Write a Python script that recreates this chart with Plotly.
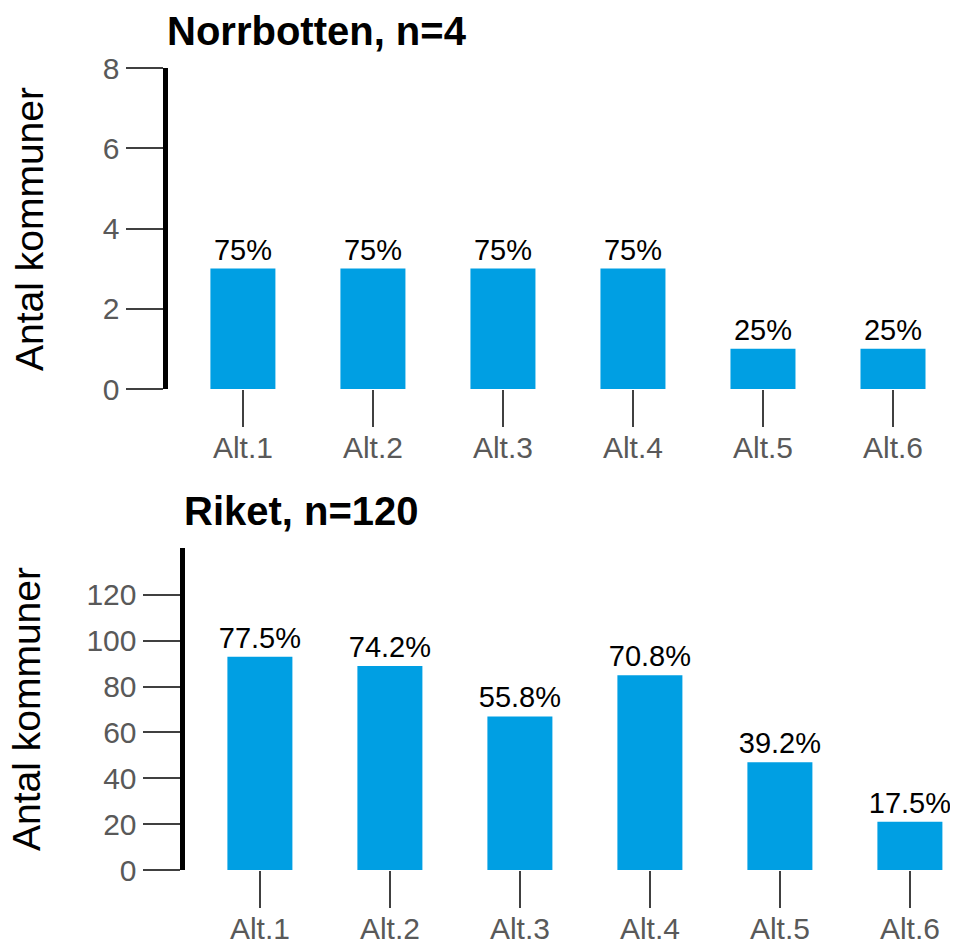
import plotly.graph_objects as go

categories = ["Alt.1", "Alt.2", "Alt.3", "Alt.4", "Alt.5", "Alt.6"]
norrbotten_counts = [3, 3, 3, 3, 1, 1]
norrbotten_n = 4
riket_counts = [93, 89, 67, 85, 47, 21]
riket_n = 120
norrbotten_ticks = [0, 2, 4, 6, 8]
riket_ticks = [0, 20, 40, 60, 80, 100, 120]

OFF = 8  # page body margin
W, H = 958 - OFF, 943 - OFF
BAR = "#009FE3"
FONT = "Liberation Sans, Arial, sans-serif"


def pct(c, n):
    v = round(100 * c / n, 1)
    s = f"{v:.1f}"
    if s.endswith(".0"):
        s = s[:-2]
    return s + "%"


def px_x(p):
    return (p - OFF) / W


def px_y(p):
    return 1 - (p - OFF) / H


fig = go.Figure()
fig.add_trace(go.Bar(
    x=categories, y=norrbotten_counts,
    text=[pct(c, norrbotten_n) for c in norrbotten_counts],
    textposition="outside", cliponaxis=False, constraintext="none",
    textfont=dict(family=FONT, size=29, color="#000000"),
    marker=dict(color=BAR, line=dict(width=0)),
    width=0.5, xaxis="x", yaxis="y", showlegend=False,
))
fig.add_trace(go.Bar(
    x=categories, y=riket_counts,
    text=[pct(c, riket_n) for c in riket_counts],
    textposition="outside", cliponaxis=False, constraintext="none",
    textfont=dict(family=FONT, size=29, color="#000000"),
    marker=dict(color=BAR, line=dict(width=0)),
    width=0.5, xaxis="x2", yaxis="y2", showlegend=False,
))

xcommon = dict(
    showgrid=False, zeroline=False, showline=False, automargin=False,
    ticks="outside", ticklen=37, tickwidth=1.5, tickcolor="#404040",
    ticklabelstandoff=-5,
    tickfont=dict(family=FONT, size=30, color="#595959"),
    fixedrange=True,
)
ycommon = dict(
    showgrid=False, zeroline=False, showline=True, linecolor="#000000", linewidth=5,
    automargin=False,
    ticks="outside", ticklen=37, tickwidth=1.5, tickcolor="#404040",
    tickfont=dict(family=FONT, size=30, color="#595959"),
    fixedrange=True,
)

fig.update_layout(
    width=W, height=H,
    margin=dict(l=0, r=0, t=0, b=0, autoexpand=False),
    paper_bgcolor="white", plot_bgcolor="white",
    xaxis=dict(domain=[px_x(167.5), 1], range=[-0.58, 5.5], anchor="y", **xcommon),
    yaxis=dict(domain=[px_y(389), px_y(68)], range=[0, 8], anchor="x",
               tickvals=norrbotten_ticks, **ycommon),
    xaxis2=dict(domain=[px_x(184.5), 1], range=[-0.58, 5.37], anchor="y2", **xcommon),
    yaxis2=dict(domain=[px_y(870), px_y(548)], range=[0, 140.5], anchor="x2",
                tickvals=riket_ticks, **ycommon),
    annotations=[
        dict(text="<b>Norrbotten, n=4</b>", x=px_x(165), y=px_y(31), xref="paper", yref="paper",
             xanchor="left", yanchor="middle", showarrow=False,
             font=dict(family=FONT, size=40, color="#000000")),
        dict(text="<b>Riket, n=120</b>", x=px_x(182), y=px_y(511), xref="paper", yref="paper",
             xanchor="left", yanchor="middle", showarrow=False,
             font=dict(family=FONT, size=40, color="#000000")),
        dict(text="Antal kommuner", x=px_x(30), y=px_y(229), xref="paper", yref="paper",
             xanchor="center", yanchor="middle", textangle=-90, showarrow=False,
             font=dict(family=FONT, size=39, color="#000000")),
        dict(text="Antal kommuner", x=px_x(26), y=px_y(709), xref="paper", yref="paper",
             xanchor="center", yanchor="middle", textangle=-90, showarrow=False,
             font=dict(family=FONT, size=39, color="#000000")),
    ],
)

fig.write_html("out.html")
